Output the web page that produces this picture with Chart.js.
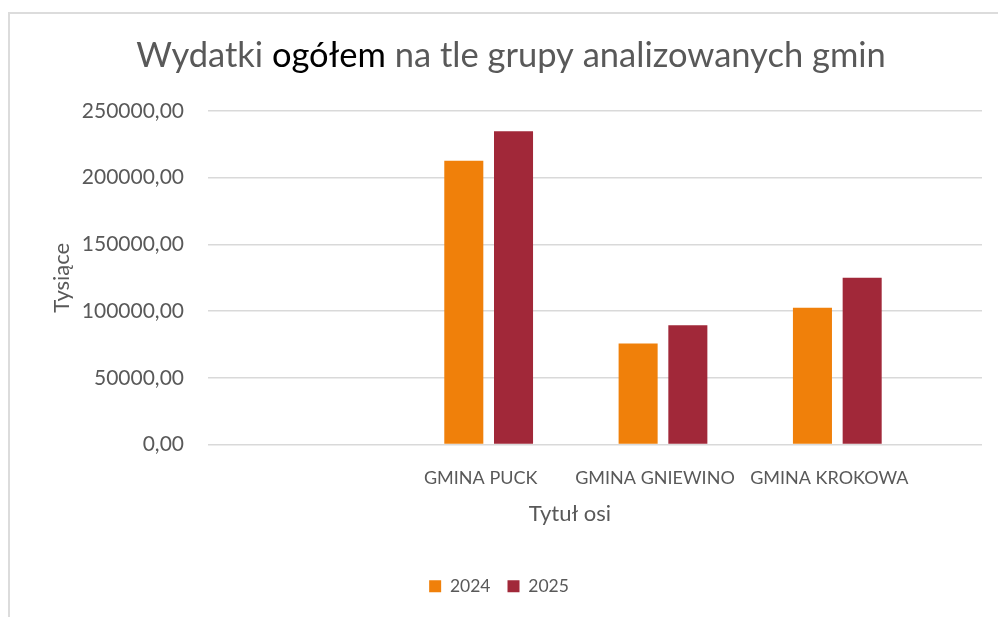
<!DOCTYPE html>
<html lang="pl">
<head>
<meta charset="utf-8">
<title>Wydatki ogółem na tle grupy analizowanych gmin</title>
<script src="https://cdn.jsdelivr.net/npm/chart.js@4.4.1/dist/chart.umd.min.js"></script>
<style>
    html, body { margin: 0; padding: 0; background: #ffffff; overflow: hidden; }
    #frame {
        position: absolute; left: 8px; top: 12px;
        width: 1200px; height: 1200px;
        border: 2px solid #dcdcdc; box-sizing: border-box;
    }
    #chart { position: absolute; left: 0; top: 0; }
</style>
</head>
<body>
<div id="frame"></div>
<canvas id="chart" width="998" height="617"></canvas>
<script>
// Chart data (first category is blank in the source sheet)
const categories = ['', 'GMINA PUCK', 'GMINA GNIEWINO', 'GMINA KROKOWA'];
const seriesNames = ['2024', '2025'];
const values2024 = [null, 212700, 75800, 102500];
const values2025 = [null, 234800, 89300, 125000];
const yTicks = [0, 50000, 100000, 150000, 200000, 250000];

const titleParts = [
    ['Wydatki ', '#595959'],
    ['ogółem', '#000000'],
    [' na tle grupy analizowanych gmin', '#595959']
];
const xAxisTitle = 'Tytuł osi';

const FONT = 'Lato';
const TEXT = '#595959';
const GRID = '#d9d9d9';

Chart.defaults.font.family = FONT;
Chart.defaults.color = TEXT;

const toPoints = (vals) => categories.map((c, i) => ({ x: i, y: vals[i] }));

// Chart title with one word in a different colour + x axis title (Excel places it off-centre)
const extraTexts = {
    id: 'extraTexts',
    afterDraw(chart) {
        const ctx = chart.ctx;
        ctx.save();
        ctx.font = '34.5px ' + FONT;
        ctx.textBaseline = 'alphabetic';
        const total = titleParts.reduce((s, p) => s + ctx.measureText(p[0]).width, 0);
        let x = 511 - total / 2;
        titleParts.forEach(([txt, col]) => {
            ctx.fillStyle = col;
            ctx.fillText(txt, x, 67);
            x += ctx.measureText(txt).width;
        });

        ctx.font = '22px ' + FONT;
        ctx.fillStyle = TEXT;
        ctx.textAlign = 'center';
        ctx.textBaseline = 'middle';
        ctx.fillText(xAxisTitle, 570, 514);
        ctx.restore();
    }
};

new Chart(document.getElementById('chart'), {
    type: 'bar',
    data: {
        datasets: [
            {
                label: seriesNames[0],
                data: toPoints(values2024),
                backgroundColor: '#f0800a',
                borderWidth: 0,
                categoryPercentage: 0.5705,
                barPercentage: 0.785
            },
            {
                label: seriesNames[1],
                data: toPoints(values2025),
                backgroundColor: '#a12839',
                borderWidth: 0,
                categoryPercentage: 0.5705,
                barPercentage: 0.785
            }
        ]
    },
    options: {
        responsive: false,
        animation: false,
        layout: { padding: { top: 111, right: 16, left: 16, bottom: 12 } },
        plugins: {
            legend: {
                position: 'bottom',
                labels: {
                    boxWidth: 12,
                    boxHeight: 12,
                    padding: 17,
                    color: TEXT,
                    font: { size: 17.5 }
                }
            },
            tooltip: { enabled: false },
            title: { display: false }
        },
        scales: {
            x: {
                type: 'linear',
                offset: false,
                min: -0.61,
                max: 3.83,
                grid: { display: false },
                border: { display: false },
                afterBuildTicks: (scale) => {
                    scale.ticks = categories.map((c, i) => ({ value: i }));
                },
                afterFit: (scale) => { scale.height = 116; },
                ticks: {
                    autoSkip: false,
                    maxRotation: 0,
                    padding: 15,
                    labelOffset: -8,
                    color: TEXT,
                    font: { size: 18 },
                    callback: (v) => categories[v] ?? ''
                },
                title: { display: false }
            },
            y: {
                min: 0,
                max: 250000,
                afterBuildTicks: (scale) => {
                    scale.ticks = yTicks.map(v => ({ value: v }));
                },
                afterFit: (scale) => { scale.width = 192; },
                grid: {
                    color: GRID,
                    lineWidth: 1.5,
                    drawTicks: false
                },
                border: { display: false },
                ticks: {
                    padding: 24,
                    color: TEXT,
                    font: { size: 21 },
                    callback: (v) => v.toFixed(2).replace('.', ',')
                },
                title: {
                    display: true,
                    text: 'Tysiące',
                    color: TEXT,
                    font: { size: 22 },
                    padding: { top: 33, bottom: 0 }
                }
            }
        }
    },
    plugins: [extraTexts]
});
</script>
</body>
</html>
